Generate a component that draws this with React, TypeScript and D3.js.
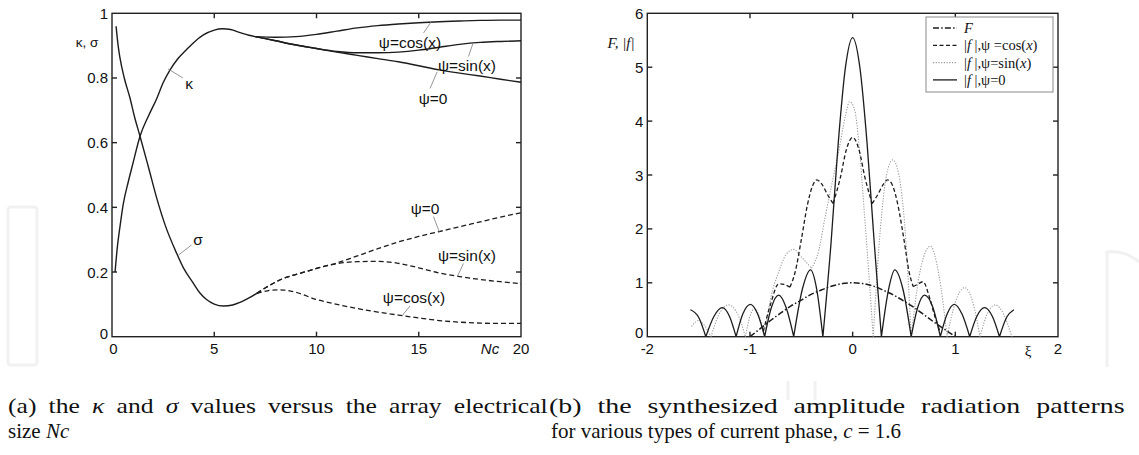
import React, { useLayoutEffect, useRef, useState } from "react";
import * as d3 from "d3";

type Pt = [number, number];

// ---------- (a) kappa and sigma versus Nc ----------
const ncTicks = [0, 5, 10, 15, 20];
const ncTickLabels = ["0", "5", "10", "15", "20"];
const ksTicks = [0, 0.2, 0.4, 0.6, 0.8, 1];
const ksTickLabels = ["0", "0.2", "0.4", "0.6", "0.8", "1"];

// kappa, common part of the three phase laws
const kappaShared: Pt[] = [
  [0.15, 0.2], [0.25, 0.27], [0.4, 0.345], [0.55, 0.41], [0.8, 0.48], [1.0, 0.53],
  [1.37, 0.62], [1.8, 0.685], [2.18, 0.735], [2.5, 0.785], [2.84, 0.825], [3.2, 0.858],
  [3.65, 0.888], [4.0, 0.91], [4.47, 0.933], [5.0, 0.948], [5.4, 0.952], [5.8, 0.95],
  [6.26, 0.94], [6.7, 0.932], [7.0, 0.928],
];
const kappaCos: Pt[] = [
  [7.0, 0.928], [8, 0.926], [9, 0.928], [10, 0.935], [11, 0.945], [12, 0.955], [13, 0.962],
  [14, 0.967], [15, 0.971], [16, 0.974], [17, 0.976], [18, 0.978], [19, 0.979], [20, 0.979],
];
const kappaSin: Pt[] = [
  [7.0, 0.928], [8, 0.915], [9, 0.902], [10, 0.891], [11, 0.882], [12, 0.878], [13, 0.878],
  [14, 0.88], [15, 0.886], [16, 0.895], [17, 0.904], [18, 0.91], [19, 0.913], [20, 0.915],
];
const kappaZero: Pt[] = [
  [7.0, 0.928], [8, 0.915], [9, 0.902], [10, 0.891], [11, 0.88], [12, 0.87], [13, 0.86],
  [14, 0.85], [15, 0.838], [16, 0.825], [17, 0.815], [18, 0.806], [19, 0.796], [20, 0.787],
];

// sigma, common part of the three phase laws
const sigmaShared: Pt[] = [
  [0.2, 0.96], [0.3, 0.9], [0.39, 0.862], [0.6, 0.8], [0.88, 0.738], [1.1, 0.68],
  [1.37, 0.62], [1.8, 0.52], [2.18, 0.43], [2.6, 0.345], [3.16, 0.258], [3.5, 0.212],
  [3.98, 0.165], [4.3, 0.135], [4.62, 0.115], [5.0, 0.101], [5.45, 0.095], [5.9, 0.098],
  [6.26, 0.106], [6.7, 0.12], [7.08, 0.134],
];
const sigmaCos: Pt[] = [
  [7.08, 0.134], [7.6, 0.142], [8.2, 0.145], [9, 0.137], [10, 0.115], [11, 0.1], [12, 0.087],
  [13, 0.076], [14, 0.067], [15, 0.058], [16, 0.05], [17, 0.045], [18, 0.042], [19, 0.041], [20, 0.041],
];
const sigmaSin: Pt[] = [
  [7.08, 0.134], [7.6, 0.155], [8.37, 0.18], [9.2, 0.196], [10, 0.211], [11, 0.226],
  [12, 0.232], [13, 0.233], [14, 0.227], [15, 0.213], [16, 0.197], [17, 0.186], [18, 0.177],
  [19, 0.17], [20, 0.164],
];
const sigmaZero: Pt[] = [
  [7.08, 0.134], [7.6, 0.155], [8.37, 0.18], [9.2, 0.196], [10, 0.211], [11, 0.228],
  [12, 0.25], [13, 0.272], [14, 0.293], [15, 0.31], [16, 0.325], [17, 0.34], [18, 0.355],
  [19, 0.37], [20, 0.383],
];

// ---------- (b) amplitude radiation patterns ----------
const xiTicks = [-2, -1, 0, 1, 2];
const xiTickLabels = ["-2", "-1", "0", "1", "2"];
const ampTicks = [0, 1, 2, 3, 4, 5, 6];
const ampTickLabels = ["0", "1", "2", "3", "4", "5", "6"];

const patternF: Pt[] = [
  [-1.0, 0], [-0.9, 0.15], [-0.8, 0.3], [-0.7, 0.44], [-0.6, 0.57], [-0.5, 0.68], [-0.4, 0.79],
  [-0.3, 0.87], [-0.2, 0.94], [-0.1, 0.985], [0, 1.0], [0.1, 0.985], [0.2, 0.94], [0.3, 0.86],
  [0.4, 0.77], [0.5, 0.66], [0.6, 0.54], [0.7, 0.4], [0.8, 0.26], [0.9, 0.13], [1.0, 0],
];
const patternCos: Pt[] = [
  [-0.87, 0.1], [-0.8, 0.6], [-0.72, 0.98], [-0.67, 0.97], [-0.61, 0.92], [-0.56, 1.2],
  [-0.5, 1.8], [-0.44, 2.45], [-0.39, 2.8], [-0.35, 2.91], [-0.3, 2.83], [-0.24, 2.62],
  [-0.19, 2.47], [-0.12, 2.95], [-0.06, 3.48], [0, 3.7], [0.06, 3.48], [0.12, 2.95],
  [0.19, 2.47], [0.24, 2.62], [0.3, 2.83], [0.34, 2.91], [0.39, 2.8], [0.44, 2.45],
  [0.5, 1.8], [0.55, 1.2], [0.59, 0.93], [0.63, 0.97], [0.685, 1.02], [0.75, 0.72],
  [0.8, 0.38], [0.85, 0.1],
];
const patternSin: Pt[] = [
  [-1.57, 0.19], [-1.5, 0.3], [-1.44, 0.2], [-1.38, 0],
  [-1.3, 0.42], [-1.21, 0.59], [-1.12, 0.42], [-1.045, 0],
  [-1.0, 0.38], [-0.955, 0.52], [-0.91, 0.38], [-0.86, 0],
  [-0.8, 0.7], [-0.72, 1.2], [-0.65, 1.52], [-0.575, 1.62], [-0.5, 1.48], [-0.4, 1.27],
  [-0.33, 1.6], [-0.27, 2.2], [-0.2, 2.85], [-0.13, 3.5], [-0.07, 4.1], [-0.03, 4.36],
  [0.02, 4.2], [0.065, 3.5], [0.11, 2.4], [0.16, 1.1], [0.2, 0],
  [0.27, 2.0], [0.33, 3.0], [0.39, 3.28], [0.45, 3.0], [0.51, 2.0], [0.57, 0],
  [0.65, 1.15], [0.757, 1.68], [0.84, 1.15], [0.92, 0],
  [1.0, 0.64], [1.09, 0.91], [1.17, 0.64], [1.24, 0],
  [1.31, 0.42], [1.39, 0.59], [1.47, 0.42], [1.55, 0],
];
const patternZero: Pt[] = [
  [-1.58, 0.5], [-1.5, 0.36], [-1.43, 0],
  [-1.35, 0.38], [-1.27, 0.54], [-1.2, 0.38], [-1.135, 0],
  [-1.07, 0.42], [-0.996, 0.6], [-0.925, 0.42], [-0.857, 0],
  [-0.79, 0.55], [-0.72, 0.77], [-0.65, 0.55], [-0.574, 0],
  [-0.49, 0.88], [-0.41, 1.24], [-0.35, 0.88], [-0.29, 0],
  [-0.21, 1.75], [-0.14, 3.6], [-0.07, 5.0], [0, 5.55], [0.07, 5.0], [0.14, 3.6], [0.21, 1.75], [0.28, 0],
  [0.35, 0.88], [0.41, 1.24], [0.49, 0.88], [0.57, 0],
  [0.635, 0.55], [0.7, 0.77], [0.78, 0.55], [0.854, 0],
  [0.92, 0.42], [0.99, 0.6], [1.065, 0.42], [1.14, 0],
  [1.21, 0.38], [1.285, 0.54], [1.36, 0.38], [1.43, 0],
  [1.5, 0.36], [1.57, 0.5],
];

// ---------- layout ----------
const W = 1139;
const H = 455;
const xA = d3.scaleLinear().domain([0, 20]).range([112, 521]);
const yA = d3.scaleLinear().domain([0, 1]).range([336.7, 13.3]);
const xB = d3.scaleLinear().domain([-2, 2]).range([647.3, 1058]);
const yB = d3.scaleLinear().domain([0, 6]).range([336.7, 13.3]);

const SANS = "'Liberation Sans', Arial, sans-serif";
const SERIF = "'Liberation Serif', 'Times New Roman', serif";
const INK = "#1c1c1c";

// split a |f| trace at its local minima so nulls stay sharp
function splitAtMinima(pts: Pt[]): Pt[][] {
  const segs: Pt[][] = [];
  let cur: Pt[] = [pts[0]];
  for (let i = 1; i < pts.length; i++) {
    cur.push(pts[i]);
    if (i < pts.length - 1 && pts[i][1] <= pts[i - 1][1] && pts[i][1] <= pts[i + 1][1]) {
      segs.push(cur);
      cur = [pts[i]];
    }
  }
  segs.push(cur);
  return segs;
}

function pathA(pts: Pt[]) {
  return d3
    .line<Pt>()
    .x((d) => xA(d[0]))
    .y((d) => yA(d[1]))
    .curve(d3.curveMonotoneX)(pts) as string;
}

function pathB(pts: Pt[]) {
  const gen = d3
    .line<Pt>()
    .x((d) => xB(d[0]))
    .y((d) => yB(d[1]))
    .curve(d3.curveMonotoneX);
  return splitAtMinima(pts)
    .map((s) => gen(s) as string)
    .join("");
}

function Frame({ x0, x1, y0, y1, xt, yt }: { x0: number; x1: number; y0: number; y1: number; xt: number[]; yt: number[] }) {
  const L = 5;
  return (
    <g stroke="#222" strokeWidth={1.4} fill="none">
      <rect x={x0} y={y1} width={x1 - x0} height={y0 - y1} />
      {xt.map((x, i) => (
        <g key={"x" + i}>
          <line x1={x} x2={x} y1={y0} y2={y0 - L} />
          <line x1={x} x2={x} y1={y1} y2={y1 + L} />
        </g>
      ))}
      {yt.map((y, i) => (
        <g key={"y" + i}>
          <line x1={x0} x2={x0 + L} y1={y} y2={y} />
          <line x1={x1} x2={x1 - L} y1={y} y2={y} />
        </g>
      ))}
    </g>
  );
}

// justified caption line: glyphs widened a little, the rest of the room goes into word gaps
function JustifiedLine({ x, y, width, maxScale, children }: { x: number; y: number; width: number; maxScale: number; children: React.ReactNode }) {
  const ref = useRef<SVGTextElement>(null);
  const [fit, setFit] = useState({ s: 1, gap: 0 });
  useLayoutEffect(() => {
    const el = ref.current;
    if (!el) return;
    const natural = el.getComputedTextLength();
    const spaces = ((el.textContent || "").match(/ /g) || []).length;
    if (natural <= 0 || natural >= width) return;
    const s = Math.min(width / natural, maxScale);
    const gap = spaces > 0 ? (width / s - natural) / spaces : 0;
    setFit({ s, gap });
  }, [width, maxScale]);
  return (
    <g transform={`translate(${x},0) scale(${fit.s},1)`}>
      <text ref={ref} x={0} y={y} style={{ wordSpacing: `${fit.gap}px` }}>
        {children}
      </text>
    </g>
  );
}

type Note = { text: string; cx: number; cy: number; at: Pt; to: [number, number] };

// curve labels of panel (a): label centre in pixels, leader from a curve point
const notesA: Note[] = [
  { text: "κ", cx: 189, cy: 83, at: [2.74, 0.828], to: [183, 78] },
  { text: "σ", cx: 198, cy: 239, at: [3.24, 0.252], to: [191.5, 245] },
  { text: "ψ=cos(x)", cx: 410, cy: 42, at: [15.6, 0.973], to: [423.5, 33] },
  { text: "ψ=sin(x)", cx: 467, cy: 65, at: [17.65, 0.907], to: [468.5, 56.5] },
  { text: "ψ=0", cx: 433, cy: 98, at: [15.9, 0.819], to: [430, 88.5] },
  { text: "ψ=0", cx: 425, cy: 208, at: [16.0, 0.325], to: [433.5, 216.5] },
  { text: "ψ=sin(x)", cx: 467, cy: 255, at: [16.9, 0.188], to: [463.5, 263.5] },
  { text: "ψ=cos(x)", cx: 414, cy: 297, at: [14.2, 0.066], to: [410, 306] },
];

const legendRows = [
  { key: "F", dash: "6,2.2,1.5,2.2", stroke: INK, width: 1.5 },
  { key: "cos", dash: "4,2.5", stroke: INK, width: 1.3 },
  { key: "sin", dash: "1.2,1.5", stroke: "#9a9a9a", width: 1.1 },
  { key: "zero", dash: "", stroke: INK, width: 1.3 },
];

export default function App() {
  const a0 = yA(0), a1 = yA(1);
  const b0 = yB(0), b1 = yB(6);
  const dashA = "5,3";
  return (
    <svg
      width={W}
      height={H}
      viewBox={`0 0 ${W} ${H}`}
      style={{ position: "absolute", left: 0, top: 0, background: "#fff", display: "block" }}
    >
      <rect x={0} y={0} width={W} height={H} fill="#fff" />

      {/* faint publisher mark behind the panels */}
      <g fill="none" stroke="#f1f1f1" strokeWidth={3}>
        <rect x={8} y={207} width={29} height={158} rx={3} />
        <path d="M1107,367 L1107,252 Q1125,250 1139,262" />
        <line x1={788} y1={381} x2={788} y2={400} />
        <line x1={815} y1={381} x2={815} y2={400} />
      </g>

      {/* ---------- panel (a) ---------- */}
      <Frame x0={xA(0)} x1={xA(20)} y0={a0} y1={a1} xt={ncTicks.slice(1, -1).map(xA)} yt={ksTicks.slice(1, -1).map(yA)} />
      <g fill="none" stroke={INK} strokeWidth={1.4}>
        <path d={pathA(kappaShared)} />
        <path d={pathA(kappaCos)} />
        <path d={pathA(kappaSin)} />
        <path d={pathA(kappaZero)} />
        <path d={pathA(sigmaShared)} />
      </g>
      <g fill="none" stroke={INK} strokeWidth={1.3} strokeDasharray={dashA}>
        <path d={pathA(sigmaCos)} />
        <path d={pathA(sigmaSin)} />
        <path d={pathA(sigmaZero)} />
      </g>
      <g fontFamily={SANS} fontSize={15} fill="#111">
        {ksTicks.map((t, i) => (
          <text key={"ya" + i} x={xA(0) - 4} y={yA(t) - (i === 0 ? 3 : 0)} textAnchor="end" dominantBaseline="central">
            {ksTickLabels[i]}
          </text>
        ))}
        {ncTicks.map((t, i) => (
          <text key={"xa" + i} x={xA(t) + (i === 0 ? 1.5 : 0)} y={a0 + 12} textAnchor="middle" dominantBaseline="central">
            {ncTickLabels[i]}
          </text>
        ))}
        <text x={490} y={a0 + 12} textAnchor="middle" dominantBaseline="central" fontStyle="italic">
          Nc
        </text>
        <text x={87} y={42} textAnchor="middle" dominantBaseline="central" fontSize={13.5}>
          κ, σ
        </text>
      </g>
      <g>
        {notesA.map((n, i) => (
          <g key={"n" + i}>
            <line x1={xA(n.at[0])} y1={yA(n.at[1])} x2={n.to[0]} y2={n.to[1]} stroke="#8a8a8a" strokeWidth={0.9} />
            <text
              x={n.cx}
              y={n.cy}
              textAnchor="middle"
              dominantBaseline="central"
              fontFamily={SANS}
              fontSize={15.5}
              fill="#111"
            >
              {n.text}
            </text>
          </g>
        ))}
      </g>

      {/* ---------- panel (b) ---------- */}
      <Frame x0={xB(-2)} x1={xB(2)} y0={b0} y1={b1} xt={xiTicks.slice(1, -1).map(xB)} yt={ampTicks.slice(1, -1).map(yB)} />
      <g fill="none">
        <path d={pathB(patternSin)} stroke="#9a9a9a" strokeWidth={1.1} strokeDasharray="1.2,1.5" />
        <path d={pathB(patternCos)} stroke={INK} strokeWidth={1.3} strokeDasharray="4,2.5" />
        <path d={pathB(patternF)} stroke={INK} strokeWidth={1.5} strokeDasharray="6,2.2,1.5,2.2" />
        <path d={pathB(patternZero)} stroke={INK} strokeWidth={1.3} />
      </g>
      <g fontFamily={SANS} fontSize={15} fill="#111">
        {ampTicks.map((t, i) => (
          <text key={"yb" + i} x={xB(-2) - 4} y={yB(t) - (i === 0 ? 4 : 0)} textAnchor="end" dominantBaseline="central">
            {ampTickLabels[i]}
          </text>
        ))}
        {xiTicks.map((t, i) => (
          <text key={"xb" + i} x={xB(t)} y={b0 + 12} textAnchor="middle" dominantBaseline="central">
            {xiTickLabels[i]}
          </text>
        ))}
      </g>
      <text x={1028} y={b0 + 14} textAnchor="middle" dominantBaseline="central" fontFamily={SERIF} fontSize={15} fill="#111">
        ξ
      </text>
      <text x={621} y={43} textAnchor="middle" dominantBaseline="central" fontFamily={SERIF} fontSize={15} fontStyle="italic" fill="#111">
        F, |f|
      </text>

      {/* legend */}
      <g>
        <rect x={926} y={17} width={127} height={75} fill="#fff" stroke="#8a8a8a" strokeWidth={1} />
        {legendRows.map((r, i) => {
          const y = 28 + i * 17.3;
          return (
            <g key={r.key}>
              <line x1={933} x2={957} y1={y} y2={y} stroke={r.stroke} strokeWidth={r.width} strokeDasharray={r.dash || undefined} />
              <text x={964} y={y} dominantBaseline="central" fontFamily={SERIF} fontSize={14.5} fill="#111">
                {r.key === "F" && <tspan fontStyle="italic">F</tspan>}
                {r.key === "cos" && (
                  <>
                    |<tspan fontStyle="italic">f</tspan> |,ψ =cos(<tspan fontStyle="italic">x</tspan>)
                  </>
                )}
                {r.key === "sin" && (
                  <>
                    |<tspan fontStyle="italic">f</tspan> |,ψ=sin(<tspan fontStyle="italic">x</tspan>)
                  </>
                )}
                {r.key === "zero" && (
                  <>
                    |<tspan fontStyle="italic">f</tspan> |,ψ=0
                  </>
                )}
              </text>
            </g>
          );
        })}
      </g>

      {/* ---------- captions ---------- */}
      <g fontFamily={SERIF} fontSize={21} fill="#111">
        <JustifiedLine x={8} y={413} width={540} maxScale={1.22}>
          (a) the <tspan fontStyle="italic">κ</tspan> and <tspan fontStyle="italic">σ</tspan> values versus the array electrical
        </JustifiedLine>
        <JustifiedLine x={549} y={413} width={576} maxScale={1.33}>
          (b) the synthesized amplitude radiation patterns
        </JustifiedLine>
        <text x={8} y={438}>
          size <tspan fontStyle="italic">Nc</tspan>
        </text>
        <text x={551} y={438}>
          for various types of current phase, <tspan fontStyle="italic">c</tspan> = 1.6
        </text>
      </g>
    </svg>
  );
}
